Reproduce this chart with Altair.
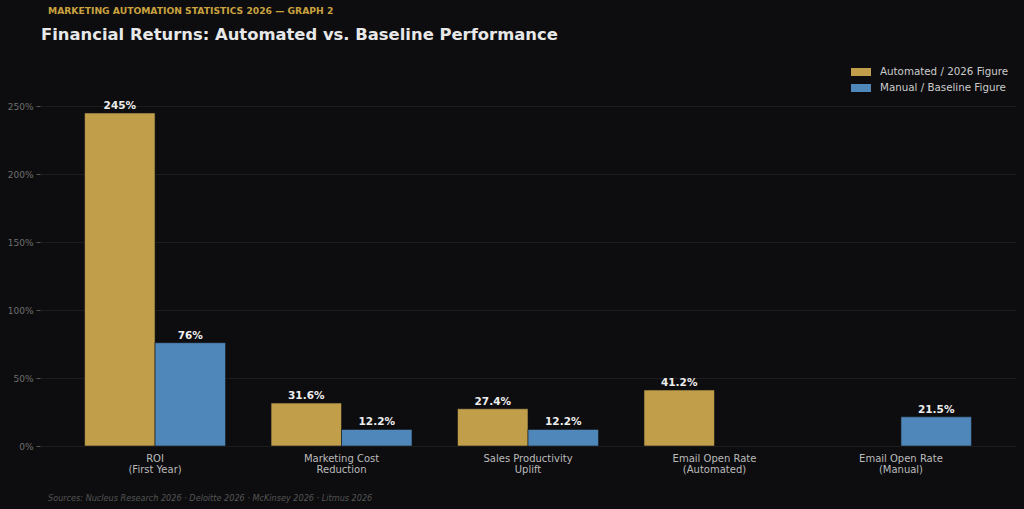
import altair as alt
import pandas as pd

categories = ["ROI\n(First Year)", "Marketing Cost\nReduction", "Sales Productivity\nUplift",
              "Email Open Rate\n(Automated)", "Email Open Rate\n(Manual)"]
automated = [245, 31.6, 27.4, 41.2, None]
manual = [76, 12.2, 12.2, None, 21.5]
auto_labels = ["245%", "31.6%", "27.4%", "41.2%", None]
manual_labels = ["76%", "12.2%", "12.2%", None, "21.5%"]
series_names = ["Automated / 2026 Figure", "Manual / Baseline Figure"]
series_colors = ["#C09E4A", "#4F87BA"]
y_ticks = [0, 50, 100, 150, 200, 250]

kicker = "MARKETING AUTOMATION STATISTICS 2026 — GRAPH 2"
title = "Financial Returns: Automated vs. Baseline Performance"
footer = "Sources: Nucleus Research 2026 · Deloitte 2026 · McKinsey 2026 · Litmus 2026"

rows = []
for c, a, m, al, ml in zip(categories, automated, manual, auto_labels, manual_labels):
    if a is not None:
        rows.append({"category": c, "series": series_names[0], "value": a, "label": al})
    if m is not None:
        rows.append({"category": c, "series": series_names[1], "value": m, "label": ml})
df = pd.DataFrame(rows)

FONT = "DejaVu Sans"
BG = "#0D0D0F"

x_enc = alt.X("category:N", sort=categories, title=None,
              scale=alt.Scale(paddingInner=0.244, paddingOuter=0.239),
              axis=alt.Axis(labelExpr="split(datum.label, '\\n')", labelAngle=0,
                            labelColor="#BBBBBB", labelFontSize=10, labelFont=FONT,
                            labelLineHeight=11, labelPadding=7, ticks=False,
                            domain=False, grid=False, labelBaseline="top"))
xoff = alt.XOffset("series:N", sort=series_names,
                   scale=alt.Scale(domain=series_names, paddingInner=0, paddingOuter=0))
y_enc = alt.Y("value:Q", title=None,
              scale=alt.Scale(domain=[0, 281.75], nice=False, zero=True),
              axis=alt.Axis(values=y_ticks, labelExpr="datum.value + '%'",
                            labelColor="#6E6E6E", labelFontSize=9, labelFont=FONT,
                            tickColor="#555555", tickSize=4, labelPadding=3,
                            domain=False, grid=True, gridColor="#222224", gridWidth=0.8))

bars = alt.Chart(df).mark_bar(stroke="#15161a", strokeWidth=0.6).encode(
    x=x_enc, xOffset=xoff, y=y_enc,
    color=alt.Color("series:N", title=None,
                    scale=alt.Scale(domain=series_names, range=series_colors),
                    legend=alt.Legend(orient="none", legendX=811, legendY=-1,
                                      symbolType="M-1,-0.4L1,-0.4L1,0.4L-1,0.4Z",
                                      symbolSize=400, symbolStrokeWidth=0,
                                      symbolOpacity=1, labelColor="#CCCCCC",
                                      labelFontSize=10.3, labelFont=FONT,
                                      labelOffset=9, rowPadding=-1)),
)

texts = alt.Chart(df).mark_text(baseline="bottom", dy=-2, fontWeight="bold",
                                 fontSize=10.5, font=FONT, color="#EEEEEE").encode(
    x=alt.X("category:N", sort=categories), xOffset=xoff, y="value:Q", text="label:N"
)

kicker_t = alt.Chart(pd.DataFrame({"t": [kicker]})).mark_text(
    align="left", baseline="middle", fontSize=9.2, fontWeight="bold", font=FONT,
    color="#C9A23F").encode(x=alt.value(8), y=alt.value(-52), text="t:N")
title_t = alt.Chart(pd.DataFrame({"t": [title]})).mark_text(
    align="left", baseline="middle", fontSize=16.4, fontWeight="bold", font=FONT,
    color="#E8E8E8").encode(x=alt.value(1), y=alt.value(-28), text="t:N")
footer_t = alt.Chart(pd.DataFrame({"t": [footer]})).mark_text(
    align="left", baseline="middle", fontSize=8.15, fontStyle="italic", font=FONT,
    color="#555555").encode(x=alt.value(8), y=alt.value(435.5), text="t:N")

chart = alt.layer(bars, texts, kicker_t, title_t, footer_t).properties(
    width=976, height=383, background=BG,
    autosize=alt.AutoSizeParams(type="none"),
    padding={"left": 40, "top": 63, "right": 8, "bottom": 63},
).configure_view(stroke=None, fill=BG)

chart.save("out.html", embed_options={"renderer": "svg", "actions": False})
